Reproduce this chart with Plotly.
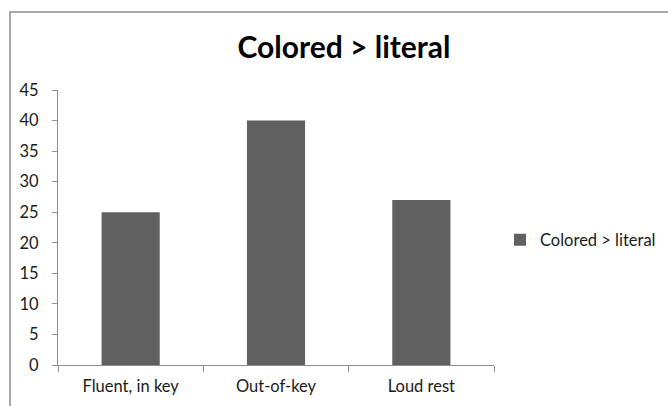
import plotly.graph_objects as go

categories = ["Fluent, in key", "Out-of-key", "Loud rest"]
values = [25, 40, 27]
series_name = "Colored > literal"
y_ticks = [0, 5, 10, 15, 20, 25, 30, 35, 40, 45]

W, H = 668, 406
L, R, T, B = 58, 174, 90, 41
pw, ph = W - L - R, H - T - B

def px_x(px):
    return (px - L) / pw

def px_y(py):
    return (H - B - py) / ph

font = "Lato, 'Open Sans', sans-serif"
fs = 16.5

fig = go.Figure()
fig.add_trace(go.Bar(
    x=categories, y=values, name=series_name,
    marker=dict(color="#606060", line=dict(width=0)),
    width=0.4, showlegend=True,
))

fig.update_layout(
    width=W, height=H,
    margin=dict(l=L, r=R, t=T, b=B, autoexpand=False),
    paper_bgcolor="white", plot_bgcolor="white",
    font=dict(family=font, size=fs, color="#1a1a1a"),
    title=dict(text="<b>Colored > literal</b>", x=344 / W, xanchor="center",
               y=1 - 47 / H, yanchor="middle",
               font=dict(family=font, size=30, color="black")),
    showlegend=True,
    legend=dict(x=px_x(500), y=px_y(240), xanchor="left", yanchor="middle",
                font=dict(family=font, size=fs, color="#1a1a1a"),
                bgcolor="rgba(0,0,0,0)", itemwidth=30),
    bargap=0.6,
)

fig.update_xaxes(
    type="category", range=[-0.5, 2.5],
    showline=True, linecolor="#8c8c8c", linewidth=1,
    ticks="outside", tickson="boundaries", ticklen=6, tickcolor="#8c8c8c",
    showgrid=False, zeroline=False, fixedrange=True,
    tickfont=dict(family=font, size=fs, color="#1a1a1a"),
    ticklabelstandoff=6,
)
fig.update_yaxes(
    range=[0, 45], tickvals=y_ticks, ticktext=[str(v) for v in y_ticks],
    showline=True, linecolor="#8c8c8c", linewidth=1,
    ticks="outside", ticklen=5, tickcolor="#8c8c8c",
    showgrid=False, zeroline=False, fixedrange=True,
    tickfont=dict(family=font, size=fs, color="#1a1a1a"),
    ticklabelstandoff=10,
)

# chart area frame
fig.add_shape(type="rect", xref="paper", yref="paper",
              x0=px_x(10), x1=px_x(690), y0=px_y(430), y1=px_y(12),
              line=dict(color="#a8a8a8", width=2), fillcolor="rgba(0,0,0,0)", layer="below")

fig.write_html("out.html", config={"displayModeBar": False},
               post_script="document.body.style.margin='0';")
